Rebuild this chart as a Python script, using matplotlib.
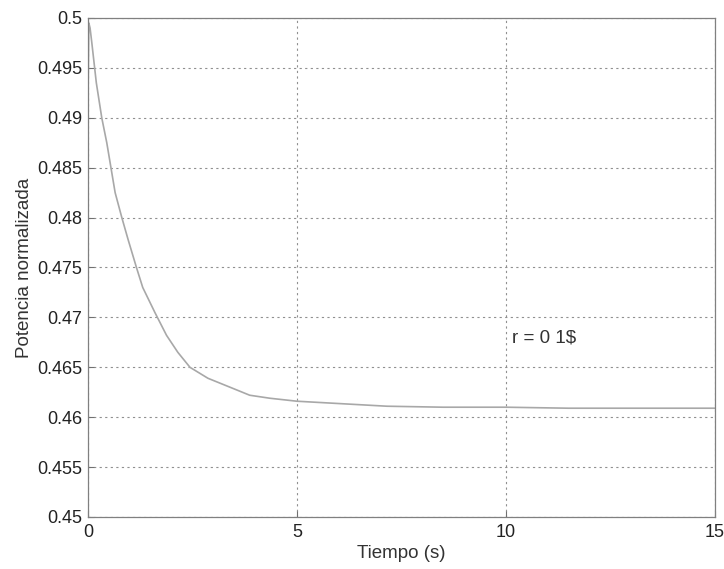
import matplotlib.pyplot as plt

plt.rcParams['font.family'] = ['Liberation Sans', 'DejaVu Sans']

# values
tiempo = [0.0, 0.02, 0.05, 0.09, 0.2, 0.33, 0.45, 0.65, 0.81, 0.96, 1.16, 1.31,
          1.6, 1.88, 2.15, 2.44, 2.87, 3.4, 3.87, 4.35, 5.0, 5.86, 7.15, 8.5,
          10.0, 11.5, 13.0, 15.0]
potencia = [0.4915, 0.4995, 0.499, 0.4976, 0.4935, 0.490, 0.4875, 0.4825, 0.4800,
            0.4778, 0.4750, 0.4730, 0.4705, 0.4682, 0.4665, 0.4650, 0.4639, 0.4630,
            0.4622, 0.4619, 0.4616, 0.4614, 0.4611, 0.4610, 0.4610, 0.4609,
            0.4609, 0.4609]

x_ticks = [0, 5, 10, 15]
y_ticks = [0.45, 0.455, 0.46, 0.465, 0.47, 0.475, 0.48, 0.485, 0.49, 0.495, 0.5]
y_labels = ['0.45', '0.455', '0.46', '0.465', '0.47', '0.475', '0.48', '0.485',
            '0.49', '0.495', '0.5']

fig = plt.figure(figsize=(7.24, 5.69), dpi=100)
ax = fig.add_axes([0.1215, 0.0914, 0.866, 0.877])

ax.plot(tiempo, potencia, color='#a8a8a8', linewidth=1.2)

ax.set_xlim(0, 15)
ax.set_ylim(0.45, 0.5)
ax.set_xticks(x_ticks)
ax.set_yticks(y_ticks)
ax.set_yticklabels(y_labels)
ax.tick_params(direction='in', length=4, color='#707070', labelsize=13,
               labelcolor='#222222')
ax.tick_params(axis='y', pad=4)
ax.tick_params(axis='x', pad=5)
ax.grid(True, linestyle=(0, (2, 3)), color='#909090', linewidth=0.8)
for s in ax.spines.values():
    s.set_color('#808080')
    s.set_linewidth(0.9)

ax.text(10.15, 0.4679, 'r = 0 1$', fontsize=13.5, color='#333333', va='center')

ax.set_xlabel('Tiempo (s)', fontsize=13.5, color='#333333', labelpad=3)
ax.set_ylabel('Potencia normalizada', fontsize=13.5, color='#333333', labelpad=3)

fig.savefig('out.png', dpi=100)
